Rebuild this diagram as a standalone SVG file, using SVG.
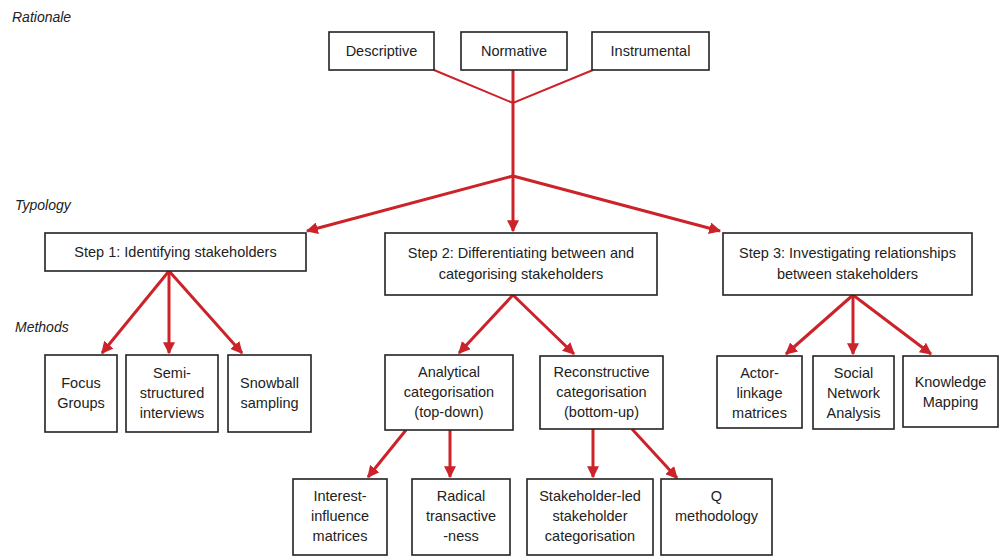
<svg xmlns="http://www.w3.org/2000/svg" width="1000" height="556" viewBox="0 0 1000 556">
<style>
.box{fill:#fff;stroke:#222;stroke-width:1.6}
.t{font-family:"Liberation Sans",Arial,sans-serif;font-size:14.5px;fill:#222;text-anchor:middle}
.lab{font-family:"Liberation Sans",Arial,sans-serif;font-size:14px;font-style:italic;fill:#222}
.c{stroke:#cc2229;stroke-width:3;fill:none}
.cthin{stroke:#cc2229;stroke-width:2;fill:none}
</style>
<defs>
<marker id="ah" viewBox="0 0 10 10" refX="9" refY="5" markerWidth="4" markerHeight="4" orient="auto" markerUnits="strokeWidth">
<path d="M0,0 L10,5 L0,10 z" fill="#cc2229"/>
</marker>
</defs>
<rect width="1000" height="556" fill="#fff"/>
<text class="lab" x="12" y="22">Rationale</text>
<text class="lab" x="15" y="210">Typology</text>
<text class="lab" x="15" y="332">Methods</text>

<g id="connectors">
<path class="cthin" d="M434,70 L513,103 L593,70"/>
<path class="c" d="M513,70 L513,176"/>
<path class="c" d="M513,176 L307,231" marker-end="url(#ah)"/>
<path class="c" d="M513,176 L513,231" marker-end="url(#ah)"/>
<path class="c" d="M513,176 L720,231" marker-end="url(#ah)"/>
<path class="c" d="M169,271 L102,353" marker-end="url(#ah)"/>
<path class="c" d="M169,271 L169,353" marker-end="url(#ah)"/>
<path class="c" d="M169,271 L242,353" marker-end="url(#ah)"/>
<path class="c" d="M513,295 L459,353" marker-end="url(#ah)"/>
<path class="c" d="M513,295 L574,354" marker-end="url(#ah)"/>
<path class="c" d="M853,295 L786,354" marker-end="url(#ah)"/>
<path class="c" d="M853,295 L853,354" marker-end="url(#ah)"/>
<path class="c" d="M853,295 L931,354" marker-end="url(#ah)"/>
<path class="c" d="M406,430 L368,477" marker-end="url(#ah)"/>
<path class="c" d="M450,430 L450,477" marker-end="url(#ah)"/>
<path class="c" d="M593,429 L593,477" marker-end="url(#ah)"/>
<path class="c" d="M632,429 L677,478" marker-end="url(#ah)"/>
</g>

<g id="descriptive"><rect class="box" x="329" y="32" width="105" height="38"/><text class="t" x="381.5" y="56">Descriptive</text></g>
<g id="normative"><rect class="box" x="461" y="32" width="106" height="38"/><text class="t" x="514" y="56">Normative</text></g>
<g id="instrumental"><rect class="box" x="592" y="32" width="117" height="38"/><text class="t" x="650.5" y="56">Instrumental</text></g>

<g id="step1"><rect class="box" x="45" y="233" width="261" height="38"/><text class="t" x="175.5" y="257">Step 1: Identifying stakeholders</text></g>
<g id="step2"><rect class="box" x="385" y="233" width="272" height="62"/><text class="t" x="521" y="258">Step 2: Differentiating between and</text><text class="t" x="521" y="279">categorising stakeholders</text></g>
<g id="step3"><rect class="box" x="723" y="233" width="249" height="62"/><text class="t" x="847.5" y="258">Step 3: Investigating relationships</text><text class="t" x="847.5" y="279">between stakeholders</text></g>

<g id="focus"><rect class="box" x="45" y="355" width="72" height="77"/><text class="t" x="81" y="388">Focus</text><text class="t" x="81" y="408">Groups</text></g>
<g id="semi"><rect class="box" x="126" y="355" width="92" height="77"/><text class="t" x="172" y="378">Semi-</text><text class="t" x="172" y="398">structured</text><text class="t" x="172" y="418">interviews</text></g>
<g id="snowball"><rect class="box" x="228" y="355" width="83" height="77"/><text class="t" x="269.5" y="388">Snowball</text><text class="t" x="269.5" y="408">sampling</text></g>

<g id="analytical"><rect class="box" x="385" y="355" width="128" height="75"/><text class="t" x="449" y="377">Analytical</text><text class="t" x="449" y="397">categorisation</text><text class="t" x="449" y="417">(top-down)</text></g>
<g id="reconstructive"><rect class="box" x="540" y="356" width="123" height="73"/><text class="t" x="601.5" y="377">Reconstructive</text><text class="t" x="601.5" y="397">categorisation</text><text class="t" x="601.5" y="417">(bottom-up)</text></g>

<g id="actor"><rect class="box" x="717" y="356" width="85" height="72"/><text class="t" x="759.5" y="378">Actor-</text><text class="t" x="759.5" y="398">linkage</text><text class="t" x="759.5" y="418">matrices</text></g>
<g id="sna"><rect class="box" x="813" y="356" width="81" height="73"/><text class="t" x="853.5" y="378">Social</text><text class="t" x="853.5" y="398">Network</text><text class="t" x="853.5" y="418">Analysis</text></g>
<g id="knowledge"><rect class="box" x="903" y="356" width="95" height="71"/><text class="t" x="950.5" y="387">Knowledge</text><text class="t" x="950.5" y="407">Mapping</text></g>

<g id="interest"><rect class="box" x="293" y="479" width="94" height="76"/><text class="t" x="340" y="501">Interest-</text><text class="t" x="340" y="521">influence</text><text class="t" x="340" y="541">matrices</text></g>
<g id="radical"><rect class="box" x="412" y="479" width="98" height="76"/><text class="t" x="461" y="501">Radical</text><text class="t" x="461" y="521">transactive</text><text class="t" x="461" y="541">-ness</text></g>
<g id="stakeholderled"><rect class="box" x="527" y="479" width="126" height="76"/><text class="t" x="590" y="501">Stakeholder-led</text><text class="t" x="590" y="521">stakeholder</text><text class="t" x="590" y="541">categorisation</text></g>
<g id="qmethod"><rect class="box" x="661" y="479" width="111" height="76"/><text class="t" x="716.5" y="501">Q</text><text class="t" x="716.5" y="521">methodology</text></g>
</svg>
